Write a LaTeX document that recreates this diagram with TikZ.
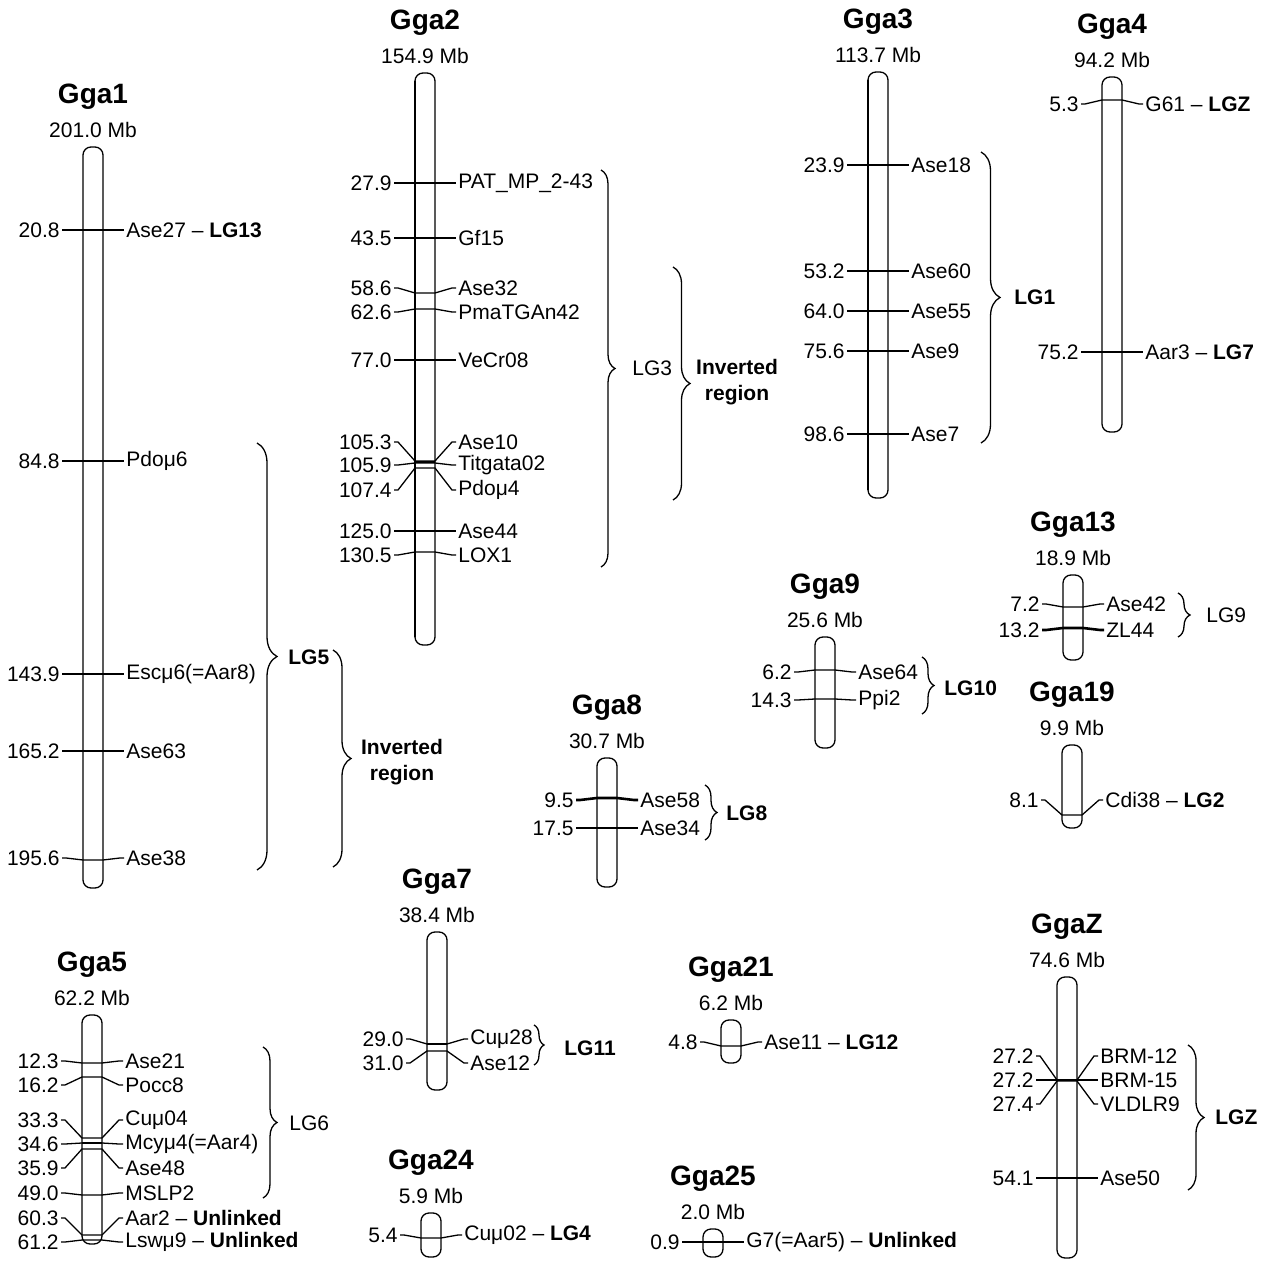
\documentclass[tikz,border=0pt]{standalone}
\usepackage{fontspec}
\setmainfont{Liberation Sans}
\usetikzlibrary{positioning, decorations.pathreplacing}

% chromosome: id, centre x, top, bottom, name, size
\newcommand{\chrom}[6]{%
  \draw[chr] (#2-10,#3) rectangle (#2+10,#4);
  \node[ttl] (#1t) at (#2,#3-50) {#5};
  \node[mb] (#1s) at (#2,#3-17) {#6 Mb};
}
% locus: [line style] id, centre x, label y, band y, position, marker
\newcommand{\locus}[7][]{%
  \node[num] (#2a) at (#3-31,#4) {#6};
  \node[nam] (#2b) at (#3+31,#4) {#7};
  \draw[mline,#1] (#2a.east) -- ++(4,0) -- (#3-10,#5) -- (#3+10,#5)
    -- ([xshift=-2pt]#2b.west) -- (#2b.west);
}

\begin{document}
\begin{tikzpicture}[x=0.5pt, y=-0.5pt,
    chr/.style={draw, rounded corners=4pt, line width=0.65pt},
    ttl/.style={font=\fontsize{14}{16}\selectfont\bfseries},
    mb/.style={font=\fontsize{10.5}{12}\selectfont},
    num/.style={anchor=east, inner sep=1pt, font=\fontsize{10.5}{12}\selectfont},
    nam/.style={anchor=west, inner sep=1pt, font=\fontsize{10.5}{12}\selectfont},
    mline/.style={line width=0.65pt},
    band/.style={line width=1.3pt},
    lg/.style={anchor=west, inner sep=1pt, font=\fontsize{10.5}{12}\selectfont\bfseries},
    lgr/.style={anchor=west, inner sep=1pt, font=\fontsize{10.5}{12}\selectfont},
    inv/.style={align=center, font=\fontsize{10.5}{13}\selectfont\bfseries},
    brc/.style={decorate, decoration={brace, amplitude=#1}, line width=0.65pt}
  ]
  \useasboundingbox (0,0) rectangle (1263,1261);

  % Gga1
  \chrom{g1}{93}{147}{888}{Gga1}{201.0}
  \locus{g1a}{93}{230}{230}{20.8}{Ase27 -- \textbf{LG13}}
  \locus[band]{g1b}{93}{461}{461}{84.8}{Pdoμ6}
  \locus{g1c}{93}{674}{674}{143.9}{Escμ6(=Aar8)}
  \locus{g1d}{93}{751}{751}{165.2}{Ase63}
  \locus{g1e}{93}{858}{860}{195.6}{Ase38}
  \draw[brc=10pt] (257,443) -- (257,870);
  \node[lg] (lg5) at (286,657) {LG5};
  \draw[brc=9pt] (333,650) -- (333,867);
  \node[inv] (inv1) at (402,762) {Inverted\\region};

  % Gga2
  \chrom{g2}{425}{73}{645}{Gga2}{154.9}
  \draw[line width=1.2pt] (415,81) -- (415,637);
  \locus{g2a}{425}{183}{183}{27.9}{PAT\_MP\_2-43}
  \locus{g2b}{425}{238}{238}{43.5}{Gf15}
  \locus{g2c}{425}{288}{293}{58.6}{Ase32}
  \locus{g2d}{425}{312}{309}{62.6}{PmaTGAn42}
  \locus{g2e}{425}{360}{360}{77.0}{VeCr08}
  \locus{g2f}{425}{442}{461}{105.3}{Ase10}
  \locus{g2g}{425}{465}{463}{105.9}{Titgata02}
  \locus{g2h}{425}{490}{468}{107.4}{Pdoμ4}
  \locus{g2i}{425}{531}{531}{125.0}{Ase44}
  \locus{g2j}{425}{555}{552}{130.5}{LOX1}
  \draw[band] (415,462) -- (435,462);
  \draw[brc=7pt] (601,170) -- (601,567);
  \node[lgr] (lg3) at (630,368) {LG3};
  \draw[brc=8.5pt] (673,267) -- (673,500);
  \node[inv] (inv2) at (737,382) {Inverted\\region};

  % Gga3
  \chrom{g3}{878}{72}{498}{Gga3}{113.7}
  \draw[line width=1.2pt] (868,80) -- (868,490);
  \locus{g3a}{878}{165}{165}{23.9}{Ase18}
  \locus{g3b}{878}{271}{271}{53.2}{Ase60}
  \locus{g3c}{878}{311}{311}{64.0}{Ase55}
  \locus{g3d}{878}{351}{351}{75.6}{Ase9}
  \locus{g3e}{878}{434}{434}{98.6}{Ase7}
  \draw[brc=9.5pt] (981,152) -- (981,443);
  \node[lg] (lg1) at (1012,297) {LG1};

  % Gga4
  \chrom{g4}{1112}{77}{432}{Gga4}{94.2}
  \locus{g4a}{1112}{104}{100}{5.3}{G61 -- \textbf{LGZ}}
  \locus{g4b}{1112}{352}{352}{75.2}{Aar3 -- \textbf{LG7}}

  % Gga5
  \chrom{g5}{92}{1015}{1244}{Gga5}{62.2}
  \locus{g5a}{92}{1061}{1063}{12.3}{Ase21}
  \locus{g5b}{92}{1085}{1077}{16.2}{Pocc8}
  \locus{g5c}{92}{1120}{1138}{33.3}{Cuμ04}
  \locus{g5d}{92}{1144}{1143}{34.6}{Mcyμ4(=Aar4)}
  \locus{g5e}{92}{1168}{1149}{35.9}{Ase48}
  \locus{g5f}{92}{1193}{1195}{49.0}{MSLP2}
  \locus{g5g}{92}{1218}{1235}{60.3}{Aar2 -- \textbf{Unlinked}}
  \locus{g5h}{92}{1242}{1240}{61.2}{Lswμ9 -- \textbf{Unlinked}}
  \draw[band] (82,1143) -- (102,1143);
  \draw[brc=7pt] (263,1047) -- (263,1198);
  \node[lgr] (lg6) at (287,1123) {LG6};

  % Gga7
  \chrom{g7}{437}{932}{1090}{Gga7}{38.4}
  \locus{g7a}{437}{1039}{1044}{29.0}{Cuμ28}
  \locus{g7b}{437}{1063}{1051}{31.0}{Ase12}
  \draw[band] (427,1044) -- (447,1044);
  \draw[brc=5pt] (534,1025) -- (534,1065);
  \node[lg] (lg11) at (562,1048) {LG11};

  % Gga24
  \chrom{g24}{431}{1213}{1257}{Gga24}{5.9}
  \locus{g24a}{431}{1235}{1238}{5.4}{Cuμ02 -- \textbf{LG4}}

  % Gga8
  \chrom{g8}{607}{758}{887}{Gga8}{30.7}
  \locus[band]{g8a}{607}{800}{798}{9.5}{Ase58}
  \locus{g8b}{607}{828}{828}{17.5}{Ase34}
  \draw[brc=6pt] (705,785) -- (705,840);
  \node[lg] (lg8) at (724,813) {LG8};

  % Gga9
  \chrom{g9}{825}{637}{748}{Gga9}{25.6}
  \locus{g9a}{825}{672}{670}{6.2}{Ase64}
  \locus{g9b}{825}{700}{699}{14.3}{Ppi2}
  \draw[brc=6pt] (922,657) -- (922,714);
  \node[lg] (lg10) at (942,688) {LG10};

  % Gga13
  \chrom{g13}{1073}{575}{660}{Gga13}{18.9}
  \locus{g13a}{1073}{604}{607}{7.2}{Ase42}
  \locus[band]{g13b}{1073}{630}{628}{13.2}{ZL44}
  \draw[brc=6pt] (1178,593) -- (1178,637);
  \node[lgr] (lg9) at (1204,615) {LG9};

  % Gga19
  \chrom{g19}{1072}{745}{828}{Gga19}{9.9}
  \locus{g19a}{1072}{800}{815}{8.1}{Cdi38 -- \textbf{LG2}}

  % Gga21
  \chrom{g21}{731}{1020}{1063}{Gga21}{6.2}
  \locus{g21a}{731}{1042}{1046}{4.8}{Ase11 -- \textbf{LG12}}

  % Gga25
  \chrom{g25}{713}{1229}{1257}{Gga25}{2.0}
  \locus{g25a}{713}{1242}{1242}{0.9}{G7(=Aar5) -- \textbf{Unlinked}}

  % GgaZ
  \chrom{gz}{1067}{977}{1258}{GgaZ}{74.6}
  \locus{gza}{1067}{1056}{1080}{27.2}{BRM-12}
  \locus{gzb}{1067}{1080}{1080}{27.2}{BRM-15}
  \locus{gzc}{1067}{1104}{1081}{27.4}{VLDLR9}
  \locus{gzd}{1067}{1178}{1178}{54.1}{Ase50}
  \draw[band] (1057,1080) -- (1077,1080);
  \draw[brc=8pt] (1188,1045) -- (1188,1190);
  \node[lg] (lgz) at (1213,1117) {LGZ};
\end{tikzpicture}
\end{document}
